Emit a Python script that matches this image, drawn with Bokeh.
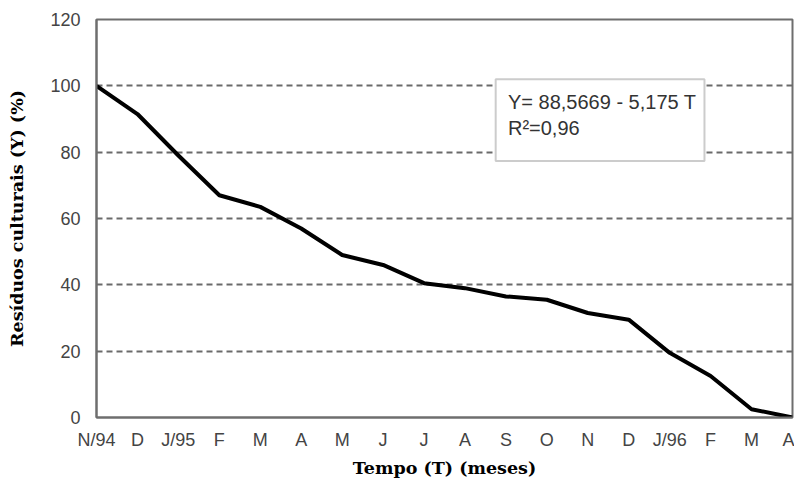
from bokeh.plotting import figure
from bokeh.models import Range1d, FixedTicker, BoxAnnotation, Label
from bokeh.embed import file_html
from bokeh.resources import INLINE

# ---- data ----
meses = ["N/94", "D", "J/95", "F", "M", "A", "M", "J", "J", "A", "S", "O",
         "N", "D", "J/96", "F", "M", "A"]
residuos = [100, 91.5, 79, 67, 63.5, 57, 49, 46, 40.5, 39, 36.5, 35.5,
            31.5, 29.5, 19.5, 12.5, 2.5, 0]
y_ticks = [0, 20, 40, 60, 80, 100, 120]
grid_ticks = [20, 40, 60, 80, 100]
equacao = "Y= 88,5669 - 5,175 T"
r2_texto = "R²=0,96"
titulo_x = "Tempo (T) (meses)"
titulo_y = "Resíduos culturais (Y) (%)"

t = list(range(len(meses)))

p = figure(width=794, height=480, output_backend="svg", toolbar_location=None,
           x_range=Range1d(0, len(meses) - 1), y_range=Range1d(0, 120),
           min_border_left=96, min_border_right=2, min_border_top=19,
           min_border_bottom=62)
p.background_fill_color = "white"
p.border_fill_color = "white"
p.outline_line_color = "#6e6e6e"
p.outline_line_width = 2

# grid
p.xgrid.visible = False
p.ygrid.ticker = FixedTicker(ticks=grid_ticks)
p.ygrid.grid_line_color = "#6a6a6a"
p.ygrid.grid_line_dash = "6 4"
p.ygrid.grid_line_width = 2

# data line
p.line(t, residuos, line_color="black", line_width=4, line_join="round")

# axes
for ax in (p.xaxis[0], p.yaxis[0]):
    ax.axis_line_color = "#6e6e6e"
    ax.axis_line_width = 2
    ax.major_tick_line_color = None
    ax.minor_tick_line_color = None
    ax.major_tick_out = 0
    ax.major_label_text_font = "Liberation Sans"
    ax.major_label_text_font_size = "18px"
    ax.major_label_text_color = "#444444"
    ax.axis_label_text_font = "DejaVu Serif"
    ax.axis_label_text_font_style = "bold"
    ax.axis_label_text_font_size = "17.5px"
    ax.axis_label_text_color = "black"

p.xaxis.ticker = FixedTicker(ticks=t)
p.xaxis.major_label_overrides = {i: m for i, m in enumerate(meses)}
p.xaxis.major_label_standoff = 12
p.xaxis.axis_label = titulo_x
p.xaxis.axis_label_standoff = 5

p.yaxis.ticker = FixedTicker(ticks=y_ticks)
p.yaxis.major_label_standoff = 16
p.yaxis.axis_label = titulo_y
p.yaxis.axis_label_standoff = 20

# equation box
box = BoxAnnotation(left=9.75, right=14.85, bottom=77.3, top=102,
                    fill_color="white", fill_alpha=1.0,
                    line_color="#555555", line_width=2)
p.add_layout(box)
p.add_layout(Label(x=10.05, y=95, text=equacao, text_font="Liberation Sans",
                   text_font_size="20px", text_baseline="middle",
                   text_color="#333333"))
p.add_layout(Label(x=10.05, y=87.2, text=r2_texto, text_font="Liberation Sans",
                   text_font_size="20px", text_baseline="middle",
                   text_color="#333333"))

open("out.html", "w").write(file_html(p, INLINE))
